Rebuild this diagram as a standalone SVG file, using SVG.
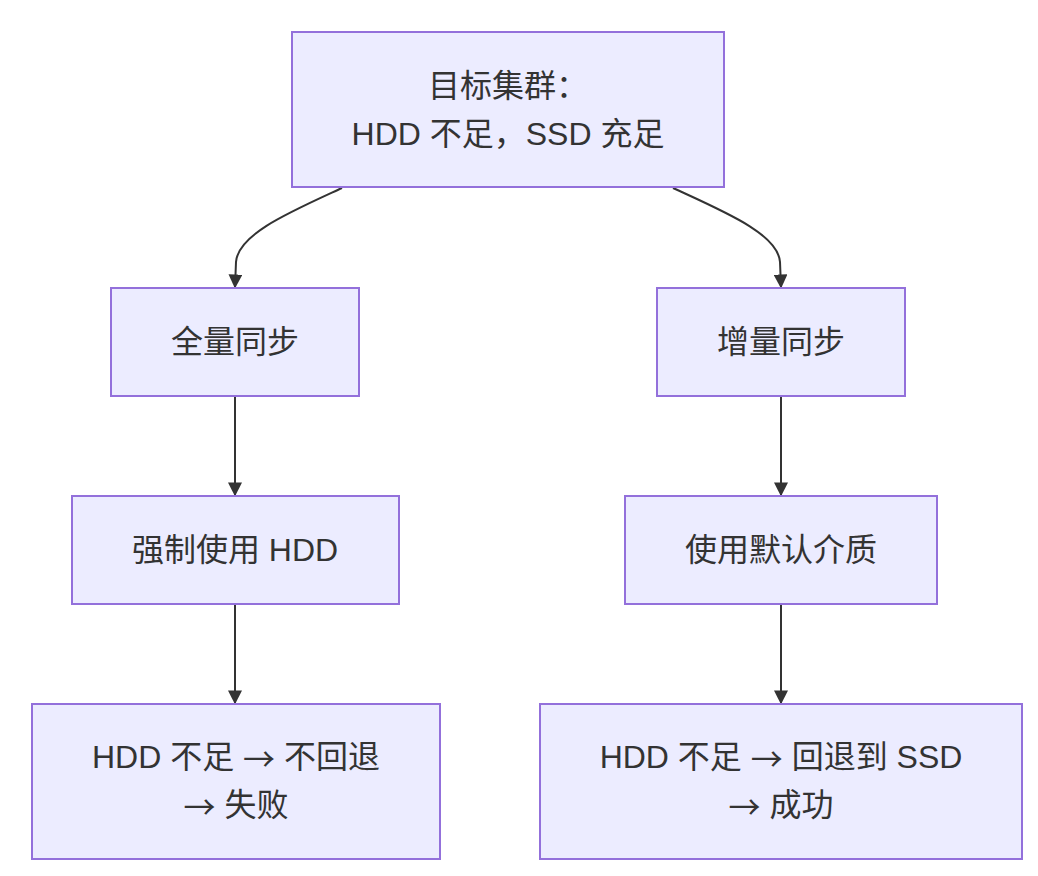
<svg xmlns="http://www.w3.org/2000/svg" width="1038" height="876" viewBox="0 0 1038 876">
<style>
.node rect{fill:#ECECFF;stroke:#9370DB;stroke-width:2}
.node text{font-family:"Liberation Sans","Noto Sans CJK SC",sans-serif;font-size:32px;fill:#333;text-anchor:middle;dominant-baseline:central}
.node .ar{font-family:"Noto Sans CJK SC",sans-serif}
.edges path{fill:none;stroke:#333;stroke-width:2}
</style>
<defs>
<marker id="arr" markerUnits="userSpaceOnUse" viewBox="0 0 10 10" refX="9" refY="5" markerWidth="14" markerHeight="14" orient="auto">
<path d="M0,0 L10,5 L0,10 z" fill="#333"/>
</marker>
</defs>
<rect width="1038" height="876" fill="#fff"/>
<g class="edges">
<path d="M342,188 C290,212 238,234 236,262 L235,287" marker-end="url(#arr)"/>
<path d="M673,188 C725,212 778,234 780,262 L781,287" marker-end="url(#arr)"/>
<path d="M235,396 L235,495" marker-end="url(#arr)"/>
<path d="M781,396 L781,495" marker-end="url(#arr)"/>
<path d="M235,604 L235,703" marker-end="url(#arr)"/>
<path d="M781,604 L781,703" marker-end="url(#arr)"/>
</g>
<g id="n_top" class="node">
<rect x="292" y="32" width="432" height="155"/>
<text x="508" y="86">目标集群：</text>
<text x="508" y="134">HDD 不足，SSD 充足</text>
</g>
<g id="n_full" class="node">
<rect x="111" y="288" width="248" height="108"/>
<text x="235" y="342">全量同步</text>
</g>
<g id="n_incr" class="node">
<rect x="657" y="288" width="248" height="108"/>
<text x="781" y="342">增量同步</text>
</g>
<g id="n_force" class="node">
<rect x="72" y="496" width="327" height="108"/>
<text x="235" y="550">强制使用 HDD</text>
</g>
<g id="n_default" class="node">
<rect x="625" y="496" width="312" height="108"/>
<text x="781" y="550">使用默认介质</text>
</g>
<g id="n_fail" class="node">
<rect x="32" y="704" width="408" height="155"/>
<text x="236" y="757">HDD 不足 <tspan class="ar">→</tspan> 不回退</text>
<text x="236" y="805"><tspan class="ar">→</tspan> 失败</text>
</g>
<g id="n_ok" class="node">
<rect x="540" y="704" width="482" height="155"/>
<text x="781" y="757">HDD 不足 <tspan class="ar">→</tspan> 回退到 SSD</text>
<text x="781" y="805"><tspan class="ar">→</tspan> 成功</text>
</g>
</svg>
